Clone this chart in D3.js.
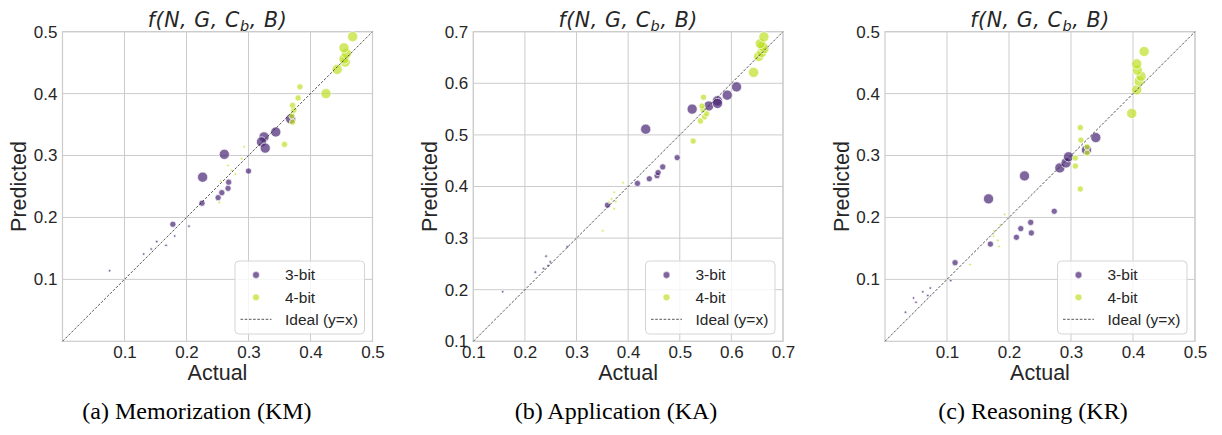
<!DOCTYPE html>
<html><head><meta charset="utf-8">
<script src="https://cdn.jsdelivr.net/npm/d3@7"></script>
<style>body{margin:0;background:#fff}svg{display:block}</style>
</head><body>
<svg id="chart" width="1222" height="435"></svg>
<script>
// ---- data: [actual, predicted, sizeClass] ----
const kmBit3 = [[0.076,0.114,1],[0.131,0.141,1],[0.143,0.149,1],[0.152,0.161,1],[0.167,0.155,1],[0.181,0.170,1],[0.204,0.186,1],
  [0.178,0.189,2],[0.225,0.223,2],[0.251,0.232,2],[0.257,0.240,2],[0.267,0.247,2],[0.268,0.257,2],[0.300,0.275,2],
  [0.226,0.265,3],[0.261,0.302,3],[0.325,0.330,3],[0.321,0.322,3],[0.327,0.312,3],[0.344,0.338,3],[0.368,0.359,3]];
const kmBit4 = [[0.253,0.224,1],[0.255,0.259,1],[0.267,0.284,1],[0.273,0.276,1],[0.279,0.270,1],[0.289,0.295,1],[0.293,0.314,1],
  [0.358,0.318,2],[0.370,0.364,2],[0.371,0.354,2],[0.373,0.373,2],[0.371,0.381,2],[0.380,0.393,2],[0.383,0.411,2],
  [0.425,0.400,3],[0.443,0.439,3],[0.456,0.451,3],[0.454,0.456,3],[0.458,0.465,3],[0.454,0.474,3],[0.468,0.492,3]];
const kaBit3 = [[0.157,0.196,1],[0.220,0.234,1],[0.236,0.241,1],[0.245,0.247,1],[0.249,0.254,1],[0.241,0.265,1],[0.282,0.283,1],
  [0.360,0.364,2],[0.418,0.406,2],[0.441,0.415,2],[0.456,0.421,2],[0.458,0.427,2],[0.467,0.438,2],[0.495,0.456,2],
  [0.434,0.511,3],[0.524,0.550,3],[0.556,0.556,3],[0.573,0.566,3],[0.573,0.561,3],[0.592,0.577,3],[0.610,0.593,3]];
const kaBit4 = [[0.351,0.314,1],[0.363,0.370,1],[0.368,0.376,1],[0.373,0.357,1],[0.376,0.371,1],[0.373,0.389,1],[0.390,0.407,1],
  [0.526,0.488,2],[0.540,0.527,2],[0.548,0.535,2],[0.552,0.541,2],[0.545,0.549,2],[0.543,0.556,2],[0.546,0.573,2],
  [0.643,0.621,3],[0.653,0.652,3],[0.659,0.660,3],[0.663,0.667,3],[0.660,0.672,3],[0.656,0.677,3],[0.663,0.690,3]];
const krBit3 = [[0.033,0.047,1],[0.046,0.070,1],[0.050,0.063,1],[0.061,0.080,1],[0.069,0.074,1],[0.073,0.086,1],[0.106,0.098,1],
  [0.113,0.127,2],[0.170,0.157,2],[0.212,0.168,2],[0.219,0.182,2],[0.236,0.175,2],[0.235,0.192,2],[0.273,0.210,2],
  [0.167,0.230,3],[0.225,0.267,3],[0.282,0.280,3],[0.292,0.288,3],[0.296,0.298,3],[0.325,0.309,3],[0.340,0.329,3]];
const krBit4 = [[0.137,0.124,1],[0.175,0.170,1],[0.176,0.178,1],[0.182,0.163,1],[0.184,0.153,1],[0.186,0.188,1],[0.193,0.205,1],
  [0.307,0.283,2],[0.307,0.296,2],[0.315,0.246,2],[0.315,0.345,2],[0.316,0.325,2],[0.326,0.304,2],[0.326,0.314,2],
  [0.398,0.368,3],[0.406,0.406,3],[0.410,0.420,3],[0.413,0.428,3],[0.407,0.438,3],[0.406,0.448,3],[0.418,0.468,3]];

const ticksKM = [0.1,0.2,0.3,0.4,0.5];
const ticksKA = [0.1,0.2,0.3,0.4,0.5,0.6,0.7];
const ticksKR = [0.1,0.2,0.3,0.4,0.5];
const seriesNames = ["3-bit","4-bit"];
const idealName = "Ideal (y=x)";
const titleParts = ["f(N, G, C", "b", ", B)"];
const captions = ["(a) Memorization (KM)","(b) Application (KA)","(c) Reasoning (KR)"];
const xLabel = "Actual", yLabel = "Predicted";

// ---- layout ----
const panels = [
  {b3:kmBit3,b4:kmBit4,dom:[0,0.5],ticks:ticksKM,x0:62.5,x1:372.5,cap:captions[0],capX:197},
  {b3:kaBit3,b4:kaBit4,dom:[0.1,0.7],ticks:ticksKA,x0:473.3,x1:783,cap:captions[1],capX:616},
  {b3:krBit3,b4:krBit4,dom:[0,0.5],ticks:ticksKR,x0:885,x1:1195,cap:captions[2],capX:1033}
];
const yTop = 31.7, yBot = 341.3;
const colors = ["#482475","#bddf26"];
const rScale = d3.scaleLinear().domain([1,2,3]).range([1.3,3.1,5.1]);
const sans = "'Liberation Sans', Arial, sans-serif";
const svg = d3.select("#chart");

panels.forEach(p => {
  const x = d3.scaleLinear().domain(p.dom).range([p.x0,p.x1]);
  const y = d3.scaleLinear().domain(p.dom).range([yBot,yTop]);
  const g = svg.append("g");
  g.append("rect").attr("x",p.x0).attr("y",yTop).attr("width",p.x1-p.x0).attr("height",yBot-yTop).attr("fill","#fff");
  // grid
  g.append("g").selectAll("line").data(p.ticks).join("line")
    .attr("x1",d=>x(d)).attr("x2",d=>x(d)).attr("y1",yTop).attr("y2",yBot)
    .attr("stroke","#cccccc").attr("stroke-width",1);
  g.append("g").selectAll("line").data(p.ticks).join("line")
    .attr("y1",d=>y(d)).attr("y2",d=>y(d)).attr("x1",p.x0).attr("x2",p.x1)
    .attr("stroke","#cccccc").attr("stroke-width",1);
  // axes
  const ax = g.append("g").attr("transform",`translate(0,${yBot})`)
    .call(d3.axisBottom(x).tickValues(p.ticks).tickSize(0).tickPadding(5).tickFormat(d3.format(".1f")));
  const ay = g.append("g").attr("transform",`translate(${p.x0},0)`)
    .call(d3.axisLeft(y).tickValues(p.ticks).tickSize(0).tickPadding(5).tickFormat(d3.format(".1f")));
  [ax,ay].forEach(a=>{a.select(".domain").remove();
    a.selectAll("text").attr("font-family",sans).attr("font-size",17).attr("fill","#262626");});
  // frame
  g.append("rect").attr("x",p.x0).attr("y",yTop).attr("width",p.x1-p.x0).attr("height",yBot-yTop)
    .attr("fill","none").attr("stroke","#cccccc").attr("stroke-width",1.2);
  // points
  [p.b3,p.b4].forEach((arr,i)=>{
    g.append("g").selectAll("circle").data(arr).join("circle")
      .attr("cx",d=>x(d[0])).attr("cy",d=>y(d[1])).attr("r",d=>rScale(d[2]))
      .attr("fill",colors[i]).attr("fill-opacity",0.7)
      .attr("stroke","#fff").attr("stroke-width",0.7);
  });
  // ideal line
  g.append("line").attr("x1",x(p.dom[0])).attr("y1",y(p.dom[0])).attr("x2",x(p.dom[1])).attr("y2",y(p.dom[1]))
    .attr("stroke","#222").attr("stroke-opacity",0.85).attr("stroke-width",0.9).attr("stroke-dasharray","2.6,1.6");
  // title
  const cx = (p.x0+p.x1)/2;
  const t = g.append("text").attr("x",cx).attr("y",26.5).attr("text-anchor","middle")
    .attr("font-family","'DejaVu Sans', sans-serif").attr("font-style","italic").attr("font-size",20.5)
    .attr("letter-spacing",0.6).attr("fill","#262626");
  t.append("tspan").text(titleParts[0]);
  t.append("tspan").attr("dy",4.5).attr("font-size",14.5).text(titleParts[1]);
  t.append("tspan").attr("dy",-4.5).text(titleParts[2]);
  // axis labels
  g.append("text").attr("x",cx).attr("y",379.5).attr("text-anchor","middle")
    .attr("font-family",sans).attr("font-size",21.5).attr("fill","#262626").text(xLabel);
  g.append("text").attr("transform",`translate(${p.x0-36.5},${(yTop+yBot)/2}) rotate(-90)`).attr("text-anchor","middle")
    .attr("font-family",sans).attr("font-size",21.5).attr("fill","#262626").text(yLabel);
  // legend
  const lx = p.x1-137.5, ly = 261;
  const lg = g.append("g").attr("transform",`translate(${lx},${ly})`);
  lg.append("rect").attr("width",129.5).attr("height",73).attr("rx",4)
    .attr("fill","#fff").attr("fill-opacity",0.8).attr("stroke","#d5d5d5").attr("stroke-width",1);
  seriesNames.forEach((n,i)=>{
    lg.append("circle").attr("cx",21).attr("cy",14+i*22.3).attr("r",3.4)
      .attr("fill",colors[i]).attr("fill-opacity",0.7).attr("stroke","#fff").attr("stroke-width",0.5);
    lg.append("text").attr("x",50).attr("y",14+i*22.3+5.4).attr("font-family",sans).attr("font-size",15.5)
      .attr("fill","#262626").text(n);
  });
  lg.append("line").attr("x1",5.5).attr("x2",36.5).attr("y1",58.3).attr("y2",58.3)
    .attr("stroke","#222").attr("stroke-opacity",0.85).attr("stroke-width",0.9).attr("stroke-dasharray","2.6,1.6");
  lg.append("text").attr("x",50).attr("y",58.3+5.4).attr("font-family",sans).attr("font-size",15.5)
    .attr("fill","#262626").text(idealName);
  // caption
  svg.append("text").attr("x",p.capX).attr("y",419).attr("text-anchor","middle")
    .attr("font-family","'Liberation Serif', 'Times New Roman', serif").attr("font-size",24).attr("fill","#000").text(p.cap);
});
</script>
</body></html>
